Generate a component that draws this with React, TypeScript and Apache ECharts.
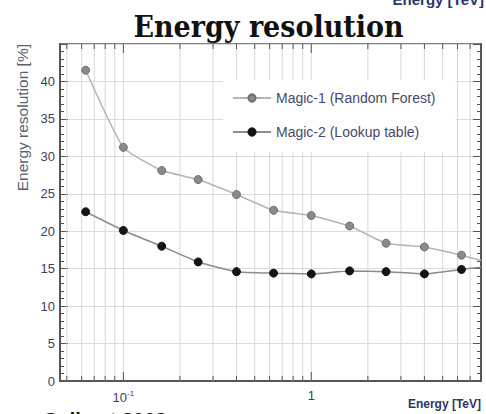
import React, { useEffect, useRef } from "react";
import * as echarts from "echarts";

// Energy bins (TeV) and resolution (%) of the two reconstruction methods
const energy = [0.063, 0.1, 0.16, 0.25, 0.4, 0.63, 1.0, 1.6, 2.5, 4.0, 6.3];
const magic1 = [41.5, 31.2, 28.1, 26.9, 24.9, 22.8, 22.1, 20.7, 18.4, 17.9, 16.8];
const magic2 = [22.6, 20.1, 18.0, 15.9, 14.6, 14.4, 14.3, 14.7, 14.6, 14.3, 14.9];

// The drawn curves run on past the last marker up to the frame edge
const tailEnergy = 8.0;
const magic1Tail = 16.1;
const magic2Tail = 15.2;

const seriesNames = ["Magic-1 (Random Forest)", "Magic-2 (Lookup table)"];

// Vertical grid lines on the log axis (every 1..9 x 10^n inside the range)
const gridEnergies = [
  0.05, 0.06, 0.07, 0.08, 0.09, 0.1, 0.2, 0.3, 0.4, 0.5, 0.6, 0.7, 0.8, 0.9, 1,
  2, 3, 4, 5, 6, 7,
];
const majorEnergies = [0.1, 1];

const X_MIN = 0.046;
const X_MAX = 8.0;
const Y_MIN = 0;
const Y_MAX = 45;
const Y_STEP = 5;

const labelColor = "#3a3f5c";
const frameColor = "#555555";

export default function App() {
  const ref = useRef<HTMLDivElement>(null);

  useEffect(() => {
    if (!ref.current) return;
    const chart = echarts.init(ref.current, null, { renderer: "svg" });

    const withTail = (vals: number[], tail: number) => [
      ...energy.map((e, i) => [e, vals[i]]),
      { value: [tailEnergy, tail], symbol: "none" },
    ];

    const yAxisBase = {
      type: "value",
      min: Y_MIN,
      max: Y_MAX,
      interval: Y_STEP,
      axisLine: { show: true, lineStyle: { color: frameColor, width: 2 } },
      axisTick: { show: true, inside: true, length: 8, lineStyle: { color: frameColor } },
      minorTick: { show: true, splitNumber: 5, length: 4, lineStyle: { color: frameColor } },
    };

    chart.setOption({
      animation: false,
      backgroundColor: "#ffffff",
      grid: {
        left: 60,
        right: 5,
        top: 44,
        bottom: 33,
        show: true,
        borderColor: frameColor,
        borderWidth: 1.5,
        backgroundColor: "transparent",
      },
      legend: {
        data: seriesNames,
        orient: "vertical",
        left: 223,
        top: 80,
        padding: [10, 20, 12, 9],
        backgroundColor: "#ffffff",
        itemWidth: 38,
        itemHeight: 9,
        itemGap: 18,
        textStyle: {
          fontFamily: "Liberation Sans",
          fontSize: 14,
          color: "#454a6a",
          lineHeight: 16,
        },
      },
      xAxis: {
        type: "log",
        logBase: 10,
        min: X_MIN,
        max: X_MAX,
        axisLine: { show: true, lineStyle: { color: frameColor, width: 2 } },
        axisTick: { show: false },
        splitLine: { show: false },
        axisLabel: {
          margin: 8,
          showMinLabel: false,
          showMaxLabel: false,
          fontFamily: "Liberation Sans",
          fontSize: 13,
          color: labelColor,
          formatter: (v: number) => {
            if (Math.abs(v - 0.1) < 1e-9) return "10{sup|-1}";
            if (Math.abs(v - 1) < 1e-9) return "1";
            return "";
          },
          rich: {
            sup: {
              fontSize: 8,
              verticalAlign: "top",
              color: labelColor,
              padding: [0, 0, 8, 0],
            },
          },
        },
      },
      yAxis: [
        {
          ...yAxisBase,
          position: "left",
          name: "Energy resolution [%]",
          nameLocation: "end",
          nameRotate: 90,
          nameGap: 0,
          nameTextStyle: {
            fontFamily: "Liberation Sans",
            fontSize: 15.5,
            color: "#5a5f76",
            align: "right",
            verticalAlign: "bottom",
            padding: [0, 0, 30, 0],
          },
          splitLine: { show: true, lineStyle: { color: "#dcdcdc", width: 1 } },
          axisLabel: {
            margin: 5,
            fontFamily: "Liberation Sans",
            fontSize: 13,
            color: labelColor,
            formatter: (v: number) => (v === Y_MAX ? "" : String(v)),
          },
        },
        {
          ...yAxisBase,
          position: "right",
          splitLine: { show: false },
          axisLabel: { show: false },
        },
      ],
      graphic: [
        {
          type: "text",
          x: 268.5,
          y: 27,
          scaleX: 0.93,
          style: {
            text: "Energy resolution",
            fontFamily: "DejaVu Serif",
            fontWeight: "bold",
            fontSize: 29,
            fill: "#111111",
            align: "center",
            verticalAlign: "middle",
          },
        },
        {
          type: "text",
          x: 484,
          y: 7,
          style: {
            text: "Energy [TeV]",
            fontFamily: "Liberation Sans",
            fontWeight: "bold",
            fontSize: 15,
            fill: "#2d3566",
            align: "right",
            verticalAlign: "bottom",
          },
        },
        {
          type: "text",
          x: 481,
          y: 404,
          style: {
            text: "Energy [TeV]",
            fontFamily: "Liberation Sans",
            fontWeight: "bold",
            fontSize: 12,
            fill: "#2d3566",
            align: "right",
            verticalAlign: "middle",
          },
        },
        {
          type: "text",
          x: 43,
          y: 410,
          style: {
            text: "Colin et 2008",
            fontFamily: "Liberation Sans",
            fontWeight: "bold",
            fontSize: 20,
            fill: "#111111",
            align: "left",
            verticalAlign: "top",
          },
        },
      ],
      series: [
        {
          type: "custom",
          silent: true,
          z: 1,
          data: gridEnergies.map((e) => [e, 0]),
          renderItem: (_params: any, api: any) => {
            const x = api.value(0);
            const top = api.coord([x, Y_MAX]);
            const bot = api.coord([x, Y_MIN]);
            const major = majorEnergies.some((m) => Math.abs(m - x) < 1e-9);
            const len = major ? 9 : 5;
            return {
              type: "group",
              children: [
                {
                  type: "line",
                  shape: { x1: bot[0], y1: bot[1], x2: top[0], y2: top[1] },
                  style: { stroke: "#d8d8d8", lineWidth: 1 },
                },
                {
                  type: "line",
                  shape: { x1: bot[0], y1: bot[1], x2: bot[0], y2: bot[1] - len },
                  style: { stroke: frameColor, lineWidth: 1 },
                },
                {
                  type: "line",
                  shape: { x1: top[0], y1: top[1], x2: top[0], y2: top[1] + len },
                  style: { stroke: frameColor, lineWidth: 1 },
                },
              ],
            };
          },
        },
        {
          name: seriesNames[0],
          type: "line",
          z: 3,
          data: withTail(magic1, magic1Tail),
          smooth: 0.15,
          symbol: "circle",
          symbolSize: 8,
          lineStyle: { color: "#b4b4b4", width: 1.5 },
          itemStyle: { color: "#8a8a8a", borderColor: "#6e6e6e", borderWidth: 1 },
        },
        {
          name: seriesNames[1],
          type: "line",
          z: 3,
          data: withTail(magic2, magic2Tail),
          smooth: 0.15,
          symbol: "circle",
          symbolSize: 8,
          lineStyle: { color: "#8c8c8c", width: 1.5 },
          itemStyle: { color: "#141414", borderColor: "#141414", borderWidth: 1 },
        },
      ],
    });

    return () => chart.dispose();
  }, []);

  return (
    <div
      ref={ref}
      style={{ position: "fixed", left: 0, top: 0, width: 486, height: 414 }}
    />
  );
}
